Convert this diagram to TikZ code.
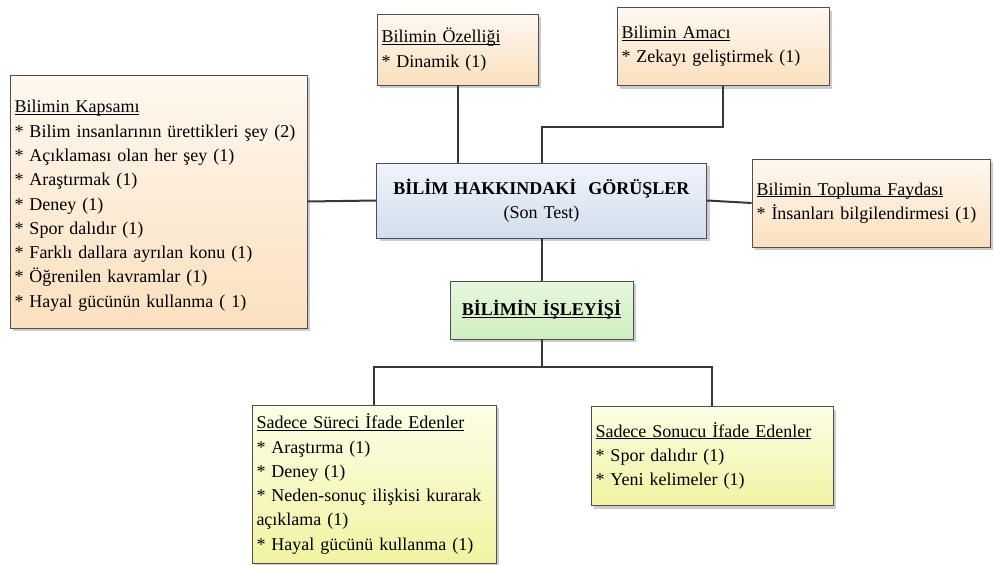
\documentclass[tikz,border=0pt]{standalone}
\usepackage{fontspec}
\setmainfont{Liberation Serif}
\usetikzlibrary{shadows}
\definecolor{kenarrenk}{HTML}{4F4F4F}
\definecolor{cizgirenk}{HTML}{383838}
\definecolor{turuncuUst}{HTML}{FEF8F0}
\definecolor{turuncuAlt}{HTML}{FBE0BE}
\definecolor{maviUst}{HTML}{F0F4FA}
\definecolor{maviAlt}{HTML}{D2DDEE}
\definecolor{yesilUst}{HTML}{E6F7DE}
\definecolor{yesilAlt}{HTML}{CFEEC0}
\definecolor{sariUst}{HTML}{FDFEE6}
\definecolor{sariAlt}{HTML}{F1F3A2}
\newsavebox{\cizgikutu}
\newcommand{\altcizgi}[1]{%
  % Word-Style Underline (fixed depth, crosses descenders)
  % \altcizgi{text}
  % example:
  %   \node {\altcizgi{Bilimin Kapsamı}};
  \sbox{\cizgikutu}{#1}%
  \rlap{\rule[-2pt]{\wd\cizgikutu}{0.9pt}}\usebox{\cizgikutu}}
\newcommand{\madde}{*\ }
  % List Item Mark (keeps the star away from \\*)
  % \madde
  % example:
  %   \node[align=left] {Head\\ \madde first (1)};
\tikzset{
  kutu/.style={draw=kenarrenk, line width=0.9pt, inner xsep=4.5pt,
    inner ysep=0pt, font=\fontsize{18}{24.3}\selectfont, align=left,
    drop shadow={shadow xshift=3pt, shadow yshift=-3pt, fill=black!20,
      opacity=1}},
  turuncu/.style={kutu, top color=turuncuUst, bottom color=turuncuAlt},
  mavi/.style={kutu, top color=maviUst, bottom color=maviAlt, align=center},
  yesil/.style={kutu, top color=yesilUst, bottom color=yesilAlt, align=center},
  sari/.style={kutu, top color=sariUst, bottom color=sariAlt},
  baglanti/.style={draw=cizgirenk, line width=2pt},
}
\begin{document}
\begin{tikzpicture}[x=1pt,y=-1pt]
  \useasboundingbox (0,0) rectangle (994,565);
  % center
  \node[mavi, text width=321pt, minimum height=75pt] (gorus) at (541.5,200.5)
    {\textbf{BİLİM HAKKINDAKİ\ \ GÖRÜŞLER}\\(Son Test)};
  % views around the center
  \node[turuncu, text width=288pt, minimum height=253pt] (kapsam) at (158.5,201.5)
    {\rule{0pt}{21pt}\altcizgi{Bilimin Kapsamı}\\
     \madde Bilim insanlarının ürettikleri şey (2)\\
     \madde Açıklaması olan her şey (1)\\
     \madde Araştırmak (1)\\
     \madde Deney (1)\\
     \madde Spor dalıdır (1)\\
     \madde Farklı dallara ayrılan konu (1)\\
     \madde Öğrenilen kavramlar (1)\\
     \madde Hayal gücünün kullanma ( 1)};
  \node[turuncu, text width=152pt, minimum height=71pt] (ozellik) at (457.5,49.5)
    {\altcizgi{Bilimin Özelliği}\\ \madde Dinamik (1)};
  \node[turuncu, text width=203pt, minimum height=78pt] (amac) at (723,46.5)
    {\altcizgi{Bilimin Amacı}\\ \madde Zekayı geliştirmek (1)};
  \node[turuncu, text width=229pt, minimum height=88pt] (fayda) at (871,203)
    {\altcizgi{Bilimin Topluma Faydası}\\ \madde İnsanları bilgilendirmesi (1)};
  % process
  \node[yesil, text width=174pt, minimum height=58pt] (isleyis) at (541.5,310)
    {\textbf{\altcizgi{BİLİMİN İŞLEYİŞİ}}};
  \node[sari, text width=235pt, minimum height=158pt] (surec) at (374,484)
    {\altcizgi{Sadece Süreci İfade Edenler}\\
     \madde Araştırma (1)\\
     \madde Deney (1)\\
     \madde Neden-sonuç ilişkisi kurarak\\
     açıklama (1)\\
     \madde Hayal gücünü kullanma (1)};
  \node[sari, text width=233pt, minimum height=99pt] (sonuc) at (712,456)
    {\altcizgi{Sadece Sonucu İfade Edenler}\\
     \madde Spor dalıdır (1)\\
     \madde Yeni kelimeler (1)};

  \draw[baglanti] (kapsam.east) -- (gorus.west);
  \draw[baglanti] (gorus.east) -- (fayda.west);
  \draw[baglanti] (ozellik.south) -- (ozellik.south |- gorus.north);
  \draw[baglanti] (amac.south) -- ++(0,41) -| (gorus.north);
  \draw[baglanti] (gorus.south) -- (isleyis.north);
  \draw[baglanti] (isleyis.south) -- ++(0,28) coordinate (dal);
  \draw[baglanti] (surec.north) |- (dal) -| (sonuc.north);
\end{tikzpicture}
\end{document}
